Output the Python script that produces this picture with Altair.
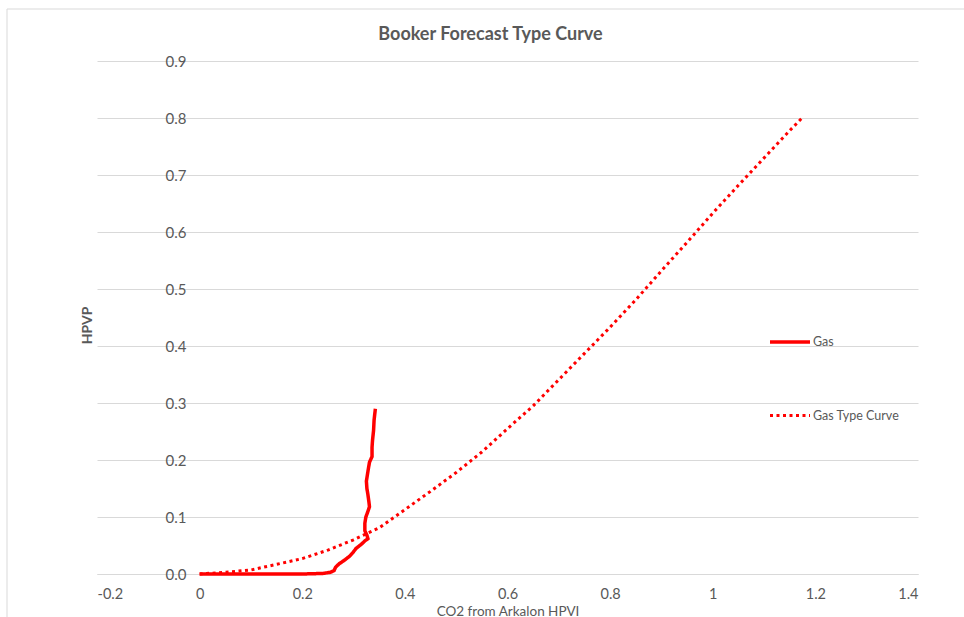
import altair as alt
import pandas as pd

# Gas (measured) curve, in drawing order
gas_x = [0.0, 0.1, 0.2, 0.24, 0.255, 0.262, 0.265, 0.272, 0.282, 0.292, 0.299, 0.305,
         0.315, 0.322, 0.328, 0.326, 0.322, 0.322, 0.324, 0.328, 0.331, 0.330, 0.328,
         0.326, 0.325, 0.328, 0.331, 0.336, 0.336, 0.337, 0.339, 0.340, 0.3425]
gas_y = [0.0, 0.0, 0.0, 0.001, 0.003, 0.006, 0.012, 0.018, 0.024, 0.031, 0.038, 0.045,
         0.052, 0.058, 0.062, 0.068, 0.076, 0.089, 0.100, 0.110, 0.118, 0.126, 0.139,
         0.150, 0.163, 0.180, 0.196, 0.206, 0.222, 0.235, 0.252, 0.270, 0.290]

# Gas type curve
type_x = [0, 0.05, 0.1, 0.15, 0.2, 0.25, 0.3, 0.35, 0.4, 0.45, 0.5, 0.55, 0.6, 0.65,
          0.7, 0.75, 0.8, 0.85, 0.9, 0.95, 1.0, 1.05, 1.1, 1.15, 1.175]
type_y = [0, 0.003, 0.007, 0.017, 0.027, 0.042, 0.060, 0.081, 0.113, 0.145, 0.178,
          0.214, 0.255, 0.295, 0.341, 0.387, 0.433, 0.481, 0.532, 0.582, 0.633, 0.682,
          0.730, 0.778, 0.801]

series_names = ["Gas", "Gas Type Curve"]
x_ticks = [-0.2, 0, 0.2, 0.4, 0.6, 0.8, 1, 1.2, 1.4]
y_ticks = [0, 0.1, 0.2, 0.3, 0.4, 0.5, 0.6, 0.7, 0.8, 0.9]

rows = []
for i, (a, b) in enumerate(zip(gas_x, gas_y)):
    rows.append({"x": a, "y": b, "series": series_names[0], "idx": i})
for i, (a, b) in enumerate(zip(type_x, type_y)):
    rows.append({"x": a, "y": b, "series": series_names[1], "idx": i})
df = pd.DataFrame(rows)

FONT = "Lato"
GRAY = "#595959"
GRID = "#d9d9d9"
W, H = 821, 513


def make_legend():
    return alt.Legend(title=None, orient="none", legendX=671, legendY=259,
                      symbolType="stroke", symbolSize=1600, rowPadding=45,
                      labelOffset=1, labelFont=FONT, labelFontSize=12.5,
                      labelColor=GRAY)


border = alt.Chart(pd.DataFrame({"a": [0]})).mark_rect(
    fill="transparent", stroke=GRID, strokeWidth=1
).encode(
    x=alt.value(-90), x2=alt.value(900), y=alt.value(-52), y2=alt.value(600)
)

lines = alt.Chart(df).mark_line(clip=False).encode(
    x=alt.X("x:Q",
            scale=alt.Scale(domain=[-0.2, 1.4], nice=False, zero=False),
            axis=alt.Axis(values=x_ticks, labelExpr="'' + datum.value",
                          grid=False, ticks=False, domain=True, domainColor=GRID,
                          labelPadding=13, labelFontSize=14.5, labelColor=GRAY,
                          labelFont=FONT, title="CO2 from Arkalon HPVI",
                          titleFont=FONT, titleFontSize=13.5, titleColor=GRAY,
                          titleFontWeight="normal", titleBaseline="alphabetic",
                          titleY=41)),
    y=alt.Y("y:Q",
            scale=alt.Scale(domain=[0, 0.9], nice=False),
            axis=alt.Axis(values=y_ticks, format=".1f", grid=True, gridColor=GRID,
                          gridWidth=1, ticks=False, tickSize=0, domain=False,
                          labelPadding=-89, labelAlign="right", labelFontSize=15,
                          labelColor=GRAY, labelFont=FONT, title="HPVP",
                          titleFont=FONT, titleFontSize=14, titleColor=GRAY,
                          titleFontWeight="bold", titleX=-3, titleY=264,
                          titleAngle=270, titleBaseline="bottom", titleAlign="center")),
    color=alt.Color("series:N",
                    scale=alt.Scale(domain=series_names, range=["#ff0000", "#ff0000"]),
                    legend=make_legend()),
    strokeDash=alt.StrokeDash("series:N",
                              scale=alt.Scale(domain=series_names,
                                              range=[[1, 0], [3, 3.5]]),
                              legend=make_legend()),
    strokeWidth=alt.StrokeWidth("series:N",
                                scale=alt.Scale(domain=series_names, range=[3.5, 3]),
                                legend=make_legend()),
    order=alt.Order("idx:Q"),
)

chart = alt.layer(border, lines).properties(
    width=W, height=H,
    title=alt.TitleParams("Booker Forecast Type Curve", font=FONT, fontSize=18,
                          fontWeight="bold", color=GRAY, anchor="middle", dx=-17,
                          baseline="alphabetic", offset=0, dy=49),
    autosize=alt.AutoSizeParams(type="none"),
    padding={"left": 97, "top": 61, "right": 46, "bottom": 43},
    background="white",
).configure_view(strokeWidth=0)

chart.save("out.html", embed_options={"renderer": "svg", "actions": False})
